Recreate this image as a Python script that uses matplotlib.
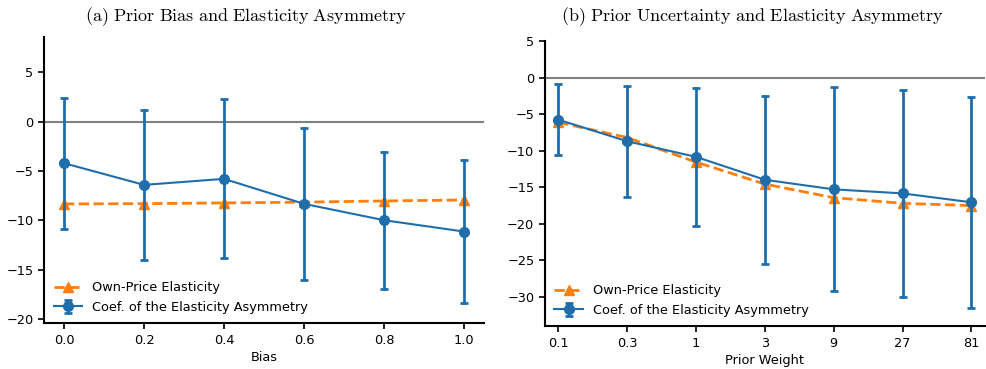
import matplotlib
matplotlib.use("Agg")
import matplotlib.pyplot as plt
import numpy as np

plt.rcParams['mathtext.fontset'] = 'cm'

# Panel (a)
bias = [0.0, 0.2, 0.4, 0.6, 0.8, 1.0]
own_a = [-8.35, -8.32, -8.25, -8.17, -8.05, -7.95]
coef_a = [-4.22, -6.42, -5.81, -8.34, -10.0, -11.15]
err_a = [6.65, 7.63, 8.06, 7.68, 6.93, 7.27]

# Panel (b)
weight_labels = ['0.1', '0.3', '1', '3', '9', '27', '81']
own_b = [-6.12, -8.2, -11.56, -14.56, -16.42, -17.19, -17.5]
coef_b = [-5.76, -8.71, -10.84, -13.97, -15.28, -15.83, -17.05]
err_b = [4.85, 7.62, 9.45, 11.5, 13.95, 14.13, 14.46]

blue = '#1f6eab'
orange = '#ff7f0e'
FS = 9.3

W, H = 986, 369
fig = plt.figure(figsize=(W / 100, H / 100), dpi=100)

ax1 = fig.add_axes([44 / W, (H - 323.3) / H, 440 / W, 286.6 / H])
ax2 = fig.add_axes([544.7 / W, (H - 326.3) / H, 440.4 / W, 285.3 / H])


def draw(ax, x, own, coef, err):
    ax.axhline(0, color='grey', lw=1.5, zorder=1)
    ax.plot(x, own, color=orange, ls='--', lw=2, marker='^', ms=7,
            label='Own-Price Elasticity', zorder=2)
    ax.errorbar(x, coef, yerr=err, color=blue, lw=1.5, marker='o', ms=7,
                elinewidth=2, capsize=3, capthick=2,
                label='Coef. of the Elasticity Asymmetry', zorder=3)
    for s in ['top', 'right']:
        ax.spines[s].set_visible(False)
    for s in ['left', 'bottom']:
        ax.spines[s].set_linewidth(1.5)
    ax.tick_params(width=1.2, length=4, labelsize=FS)
    ax.legend(loc='lower left', frameon=False, fontsize=FS,
              borderaxespad=0.35, handlelength=2.2)


draw(ax1, bias, own_a, coef_a, err_a)
ax1.set_xlim(-0.05, 1.05)
ax1.set_ylim(-20.45, 8.6)
ax1.set_xticks(bias)
ax1.set_xticklabels(['%.1f' % b for b in bias])
ax1.set_yticks([5, 0, -5, -10, -15, -20])
ax1.set_xlabel('Bias', fontsize=FS, labelpad=3)

xb = np.arange(len(weight_labels))
draw(ax2, xb, own_b, coef_b, err_b)
ax2.set_xlim(-0.2, 6.2)
ax2.set_ylim(-34, 5)
ax2.set_xticks(xb)
ax2.set_xticklabels(weight_labels)
ax2.set_yticks([5, 0, -5, -10, -15, -20, -25, -30])
ax2.set_xlabel('Prior Weight', fontsize=FS, labelpad=3)

fig.text(246 / W, 1 - 17 / H, r'$\mathrm{(a)\ Prior\ Bias\ and\ Elasticity\ Asymmetry}$',
         ha='center', va='center', fontsize=13)
fig.text(752 / W, 1 - 17 / H, r'$\mathrm{(b)\ Prior\ Uncertainty\ and\ Elasticity\ Asymmetry}$',
         ha='center', va='center', fontsize=13)

fig.savefig('out.png', dpi=100)
